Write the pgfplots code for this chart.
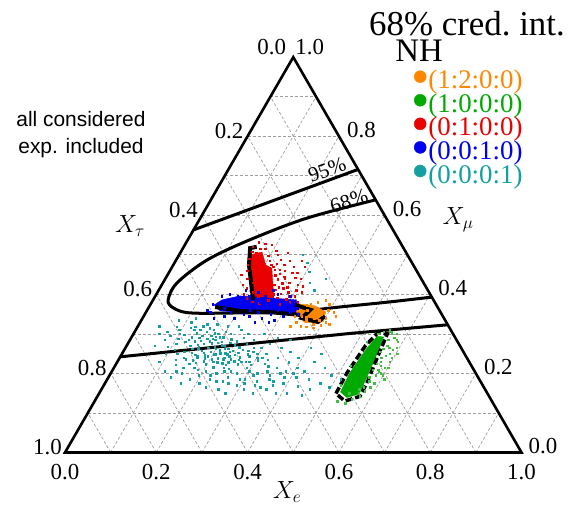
\documentclass[border=0pt]{standalone}
\usepackage{pgfplots}
\pgfplotsset{compat=1.18}
\usepackage{pgfplotstable}
\usepackage{graphicx}
\usepackage{fontspec}
\setmainfont{Liberation Serif}
\newfontfamily\sansf{Liberation Sans}

\definecolor{corange}{RGB}{255,135,0}
\definecolor{cgreen}{RGB}{0,170,0}
\definecolor{cred}{RGB}{235,0,0}
\definecolor{cblue}{RGB}{0,0,240}
\definecolor{cteal}{RGB}{20,160,160}

\pgfplotsset{table/tern/.style={x expr=\thisrow{e}+0.5*\thisrow{m}, y expr=0.866025*\thisrow{m}}}
\tikzset{gridst/.style={gray!75, line width=0.7bp, dash pattern=on 3bp off 2bp}}

% ternary values: e = X_e, m = X_mu  (X_tau = 1 - e - m)
\pgfplotstableread{
e m
0.161 0.262
0.176 0.281
0.192 0.255
0.214 0.270
0.149 0.290
0.231 0.248
0.186 0.300
0.203 0.236
0.167 0.245
0.221 0.287
0.139 0.270
0.253 0.253
0.196 0.278
0.181 0.265
0.158 0.305
0.245 0.236
0.209 0.259
0.173 0.227
0.131 0.292
0.236 0.271
0.191 0.243
0.219 0.228
0.151 0.252
0.262 0.241
0.201 0.292
0.127 0.311
0.179 0.288
0.227 0.262
0.166 0.275
0.241 0.222
0.146 0.236
0.259 0.260
0.188 0.231
0.213 0.301
0.134 0.255
0.271 0.230
0.156 0.283
0.206 0.248
0.229 0.240
0.177 0.302
0.123 0.280
0.249 0.266
0.195 0.266
0.163 0.234
0.281 0.244
0.141 0.310
0.217 0.216
0.187 0.285
0.235 0.282
0.170 0.258
0.253 0.212
0.112 0.298
0.203 0.280
0.225 0.251
0.159 0.268
0.267 0.223
0.183 0.246
0.144 0.281
0.239 0.257
0.197 0.223
0.086 0.318
0.101 0.300
0.076 0.285
0.111 0.330
0.091 0.268
0.121 0.250
0.071 0.305
0.106 0.275
0.131 0.222
0.116 0.340
0.151 0.215
0.096 0.250
0.081 0.335
0.126 0.318
0.141 0.205
0.291 0.215
0.306 0.233
0.321 0.200
0.276 0.200
0.336 0.218
0.301 0.185
0.351 0.195
0.316 0.250
0.281 0.265
0.366 0.180
0.331 0.170
0.296 0.250
0.381 0.205
0.346 0.240
0.391 0.175
0.361 0.160
0.411 0.190
0.401 0.215
0.426 0.168
0.441 0.185
0.376 0.228
0.456 0.160
0.421 0.205
0.471 0.175
0.446 0.145
0.486 0.195
0.411 0.150
0.261 0.190
0.241 0.180
0.221 0.195
0.291 0.170
0.271 0.285
0.251 0.300
0.231 0.310
0.311 0.275
0.341 0.265
0.196 0.320
0.171 0.325
0.156 0.200
0.181 0.185
0.206 0.175
0.256 0.160
0.311 0.160
0.336 0.150
0.386 0.150
0.431 0.230
0.461 0.215
0.496 0.165
0.511 0.185
0.366 0.255
0.391 0.240
0.286 0.300
0.321 0.290
0.351 0.285
0.406 0.265
0.436 0.250
0.221 0.320
0.136 0.190
0.166 0.175
0.226 0.165
0.276 0.150
0.056 0.300
0.061 0.270
0.091 0.230
0.046 0.320
0.116 0.205
0.261 0.205
0.246 0.205
0.301 0.205
0.326 0.235
0.356 0.215
0.371 0.200
0.281 0.230
0.296 0.222
0.261 0.275
0.246 0.290
0.206 0.205
0.231 0.200
0.186 0.210
0.171 0.310
0.149 0.325
0.306 0.457
0.321 0.430
0.291 0.480
0.341 0.410
0.271 0.500
0.351 0.440
0.152 0.296
0.168 0.288
0.183 0.276
0.199 0.262
0.214 0.251
0.229 0.236
0.244 0.228
0.137 0.302
0.162 0.247
0.178 0.252
0.193 0.291
0.208 0.271
0.223 0.278
0.238 0.244
0.255 0.231
0.147 0.263
0.172 0.296
0.187 0.238
0.202 0.249
0.218 0.263
0.233 0.255
0.248 0.247
0.263 0.235
0.129 0.285
0.154 0.273
0.169 0.241
0.184 0.293
0.199 0.305
0.215 0.238
0.231 0.226
0.276 0.248
0.289 0.229
0.301 0.240
0.118 0.315
0.104 0.288
0.095 0.310
0.143 0.320
0.160 0.314
0.210 0.230
0.272 0.258
0.285 0.255
0.297 0.265
0.312 0.240
0.325 0.225
0.340 0.205
0.355 0.185
0.370 0.170
0.385 0.190
0.400 0.200
0.330 0.180
0.345 0.165
0.315 0.195
0.290 0.185
0.305 0.175
0.270 0.175
0.255 0.180
0.240 0.215
0.225 0.185
0.195 0.195
0.175 0.215
0.160 0.225
0.140 0.240
0.125 0.235
0.110 0.260
0.083 0.295
}\cyanpts

\pgfplotstableread{
e m
0.151 0.520
0.166 0.505
0.181 0.515
0.196 0.498
0.159 0.490
0.173 0.480
0.189 0.470
0.206 0.485
0.221 0.470
0.169 0.460
0.186 0.452
0.201 0.445
0.219 0.455
0.236 0.448
0.251 0.460
0.179 0.440
0.196 0.430
0.213 0.420
0.231 0.432
0.246 0.425
0.261 0.440
0.276 0.430
0.191 0.415
0.209 0.405
0.226 0.395
0.241 0.410
0.256 0.400
0.271 0.415
0.286 0.405
0.203 0.390
0.219 0.382
0.236 0.378
0.253 0.385
0.269 0.392
0.291 0.388
0.306 0.395
0.181 0.500
0.163 0.475
0.229 0.488
0.243 0.475
0.266 0.470
0.281 0.455
0.296 0.440
0.311 0.420
0.177 0.425
0.191 0.400
0.156 0.508
0.216 0.500
0.239 0.462
0.259 0.418
0.301 0.410
0.283 0.375
0.249 0.395
0.233 0.415
0.223 0.440
0.206 0.462
0.191 0.485
0.176 0.465
0.161 0.450
0.276 0.485
0.158 0.532
0.175 0.528
0.165 0.495
0.185 0.488
0.200 0.470
0.214 0.475
0.228 0.462
0.244 0.452
0.258 0.445
0.270 0.455
0.283 0.442
0.297 0.425
0.214 0.438
0.228 0.425
0.247 0.438
0.262 0.428
0.278 0.418
0.293 0.395
0.240 0.398
0.256 0.412
0.272 0.402
0.197 0.455
0.170 0.515
0.190 0.525
0.208 0.510
0.225 0.478
0.302 0.380
0.316 0.405
0.320 0.380
0.235 0.505
0.250 0.485
0.290 0.470
}\redpts

\pgfplotstableread{
e m
0.155 0.500
0.178 0.507
0.203 0.474
0.220 0.466
0.265 0.386
0.226 0.381
0.190 0.436
}\redcore

\pgfplotstableread{
e m
0.151 0.380
0.166 0.365
0.141 0.355
0.181 0.395
0.196 0.370
0.176 0.345
0.211 0.385
0.226 0.360
0.201 0.340
0.241 0.395
0.256 0.372
0.231 0.345
0.271 0.385
0.286 0.360
0.261 0.340
0.301 0.375
0.316 0.355
0.291 0.335
0.161 0.400
0.191 0.410
0.221 0.405
0.251 0.410
0.136 0.375
0.156 0.340
0.186 0.355
0.216 0.350
0.246 0.355
0.276 0.350
0.306 0.345
0.171 0.385
0.206 0.395
0.236 0.380
0.266 0.400
0.296 0.395
0.146 0.395
0.131 0.360
0.281 0.330
0.251 0.330
0.326 0.365
0.336 0.350
}\bluepts

\pgfplotstableread{
e m
0.151 0.386
0.185 0.396
0.254 0.391
0.313 0.386
0.339 0.353
0.273 0.353
0.206 0.355
0.161 0.358
0.140 0.373
}\bluecore

\pgfplotstableread{
e m
0.336 0.360
0.351 0.375
0.371 0.365
0.386 0.350
0.401 0.340
0.361 0.335
0.346 0.345
0.381 0.325
0.396 0.360
0.366 0.355
0.341 0.330
0.356 0.320
0.376 0.340
0.411 0.355
0.391 0.375
0.331 0.345
0.386 0.315
0.406 0.330
0.351 0.360
0.369 0.318
0.421 0.345
0.363 0.380
0.343 0.372
0.379 0.385
0.399 0.322
0.416 0.325
0.333 0.320
0.389 0.335
0.357 0.342
0.375 0.352
}\orangepts

\pgfplotstableread{
e m
0.323 0.376
0.362 0.371
0.394 0.355
0.398 0.330
0.362 0.328
0.331 0.350
}\orangecore

\pgfplotstableread{
e m
0.576 0.180
0.581 0.220
0.586 0.250
0.571 0.270
0.591 0.200
0.566 0.300
0.596 0.240
0.579 0.155
0.561 0.135
0.586 0.165
0.601 0.215
0.576 0.290
0.589 0.280
0.569 0.210
0.556 0.310
0.546 0.305
0.521 0.280
0.516 0.220
0.519 0.170
0.531 0.130
0.551 0.125
0.583 0.195
0.573 0.240
0.594 0.265
0.564 0.160
0.577 0.300
0.607 0.185
0.563 0.255
0.547 0.150
0.536 0.300
0.571 0.190
0.576 0.230
0.578 0.265
0.584 0.285
0.568 0.150
0.574 0.142
0.590 0.175
0.596 0.230
0.581 0.210
0.588 0.260
0.565 0.285
0.562 0.305
0.598 0.195
0.603 0.250
0.572 0.165
0.580 0.245
0.585 0.205
0.593 0.215
0.570 0.225
0.566 0.262
}\greenpts

\pgfplotstableread{
e m
0.527 0.153
0.523 0.200
0.529 0.262
0.537 0.294
0.552 0.292
0.560 0.240
0.567 0.180
0.570 0.148
0.548 0.139
}\greencore

\pgfplotstableread{
e m
0.519 0.149
0.517 0.200
0.523 0.270
0.534 0.303
0.556 0.300
0.564 0.240
0.573 0.179
0.575 0.142
0.548 0.130
}\greencont

% credible-region boundaries
\pgfplotstableread{
e m
0.000 0.563
0.284 0.716
}\ninetyfiveA

\pgfplotstableread{
e m
0.000 0.242
0.473 0.301
0.677 0.323
}\ninetyfiveB

\pgfplotstableread{
e m
0.361 0.639
0.234 0.593
0.136 0.538
0.068 0.487
0.031 0.429
0.033 0.386
0.054 0.366
0.098 0.353
0.207 0.353
0.316 0.355
0.418 0.368
0.522 0.381
0.607 0.393
}\sixtyeight

% black contours of the dense cores
\pgfplotstableread{
e m
0.160 0.520
0.147 0.517
0.166 0.474
0.219 0.386
}\redcont
\pgfplotstableread{
e m
0.145 0.368
0.204 0.358
0.272 0.355
0.341 0.348
}\bluecont
\pgfplotstableread{
e m
0.318 0.373
0.357 0.361
0.349 0.340
0.389 0.330
0.397 0.345
}\orangecont

\newcommand\tk{\fontsize{23}{23}\selectfont}

\begin{document}
\begin{tikzpicture}
\begin{axis}[
  x=456.5bp, y=456.5bp,
  xmin=-0.1424, xmax=1.1150, ymin=-0.1303, ymax=0.9912,
  enlargelimits=false, hide axis, clip=false,
  legend style={at={(axis cs:0.7645,0.8368)}, anchor=north west, draw=none, fill=none,
    inner sep=0pt, outer sep=0pt, row sep=0bp, column sep=2bp,
    font=\fontsize{27}{27}\selectfont,
    nodes={inner sep=0pt, text height=17.5bp, text depth=5.25bp}},
  legend cell align=left,
  legend image code/.code={\fill[#1] (6bp,6bp) circle (6bp);},
]
% grid
\pgfplotsinvokeforeach{1,...,9}{
  \draw[gridst] (axis cs:{0.05*#1},{0.0866025*#1}) -- (axis cs:{1-0.05*#1},{0.0866025*#1});
  \draw[gridst] (axis cs:{0.1*#1},0) -- (axis cs:{0.5+0.05*#1},{0.866025-0.0866025*#1});
  \draw[gridst] (axis cs:{1-0.1*#1},0) -- (axis cs:{0.5-0.05*#1},{0.866025-0.0866025*#1});
}
\draw[black, line width=2.6bp, line join=miter] (axis cs:0,0) -- (axis cs:1,0) -- (axis cs:0.5,0.866025) -- cycle;

% NH 0:0:0:1 cloud
\addplot[only marks, mark=square*, mark size=0.75bp, cteal, forget plot] table[tern] {\cyanpts};

% credible regions
\addplot[black, line width=3bp, forget plot] table[tern] {\ninetyfiveA};
\addplot[black, line width=3bp, forget plot] table[tern] {\ninetyfiveB};
\addplot[black, line width=3bp, smooth, tension=0.55, forget plot] table[tern] {\sixtyeight};

% clouds
\addplot[fill=cred, draw=cred, forget plot] table[tern] {\redcore} -- cycle;
\addplot[only marks, mark=square*, mark size=0.75bp, cred, forget plot] table[tern] {\redpts};
\addplot[fill=cblue, draw=cblue, forget plot] table[tern] {\bluecore} -- cycle;
\addplot[only marks, mark=square*, mark size=0.75bp, cblue, forget plot] table[tern] {\bluepts};
\addplot[fill=corange, draw=corange, forget plot] table[tern] {\orangecore} -- cycle;
\addplot[only marks, mark=square*, mark size=0.75bp, corange, forget plot] table[tern] {\orangepts};
\addplot[fill=cgreen, draw=cgreen, forget plot] table[tern] {\greencore} -- cycle;
\addplot[only marks, mark=square*, mark size=0.75bp, cgreen!75!white, forget plot] table[tern] {\greenpts};

% black contours
\addplot[black, line width=4bp, forget plot] table[tern] {\redcont};
\addplot[black, line width=4bp, forget plot] table[tern] {\bluecont};
\addplot[black, line width=4bp, forget plot] table[tern] {\orangecont};
\addplot[black, line width=3.5bp, dash pattern=on 7bp off 3bp, forget plot] table[tern] {\greencont} -- cycle;

% legend
\addlegendimage{corange}\addlegendentry{\textcolor{corange}{(1:2:0:0)}}
\addlegendimage{cgreen}\addlegendentry{\textcolor{cgreen}{(1:0:0:0)}}
\addlegendimage{cred}\addlegendentry{\textcolor{cred}{(0:1:0:0)}}
\addlegendimage{cblue}\addlegendentry{\textcolor{cblue}{(0:0:1:0)}}
\addlegendimage{cteal}\addlegendentry{\textcolor{cteal}{(0:0:0:1)}}

% tick labels: X_e (bottom)
\node[font=\tk] at (axis cs:0,-0.042) {0.0};
\node[font=\tk] at (axis cs:0.2,-0.042) {0.2};
\node[font=\tk] at (axis cs:0.4,-0.042) {0.4};
\node[font=\tk] at (axis cs:0.6,-0.042) {0.6};
\node[font=\tk] at (axis cs:0.8,-0.042) {0.8};
\node[font=\tk] at (axis cs:1,-0.042) {1.0};
% X_tau (left)
\node[font=\tk, anchor=east, xshift=-7bp, yshift=10bp, inner sep=0pt] at (axis cs:0.5,0.866025) {0.0};
\node[font=\tk, anchor=east, xshift=-4bp, yshift=5bp, inner sep=0pt] at (axis cs:0.4,0.69282) {0.2};
\node[font=\tk, anchor=east, xshift=-4bp, yshift=5bp, inner sep=0pt] at (axis cs:0.3,0.519615) {0.4};
\node[font=\tk, anchor=east, xshift=-4bp, yshift=5bp, inner sep=0pt] at (axis cs:0.2,0.34641) {0.6};
\node[font=\tk, anchor=east, xshift=-4bp, yshift=5bp, inner sep=0pt] at (axis cs:0.1,0.173205) {0.8};
\node[font=\tk, anchor=east, xshift=-3bp, yshift=5bp, inner sep=0pt] at (axis cs:0,0) {1.0};
% X_mu (right)
\node[font=\tk, anchor=west, xshift=2bp, yshift=10bp, inner sep=0pt] at (axis cs:0.5,0.866025) {1.0};
\node[font=\tk, anchor=west, xshift=8bp, yshift=6bp, inner sep=0pt] at (axis cs:0.6,0.69282) {0.8};
\node[font=\tk, anchor=west, xshift=8bp, yshift=6bp, inner sep=0pt] at (axis cs:0.7,0.519615) {0.6};
\node[font=\tk, anchor=west, xshift=8bp, yshift=6bp, inner sep=0pt] at (axis cs:0.8,0.34641) {0.4};
\node[font=\tk, anchor=west, xshift=8bp, yshift=6bp, inner sep=0pt] at (axis cs:0.9,0.173205) {0.2};
\node[font=\tk, anchor=west, xshift=7bp, yshift=6bp, inner sep=0pt] at (axis cs:1,0) {0.0};

% axis titles
\node[font=\fontsize{25}{25}\selectfont] at (axis cs:0.1424,0.4962) {$X_\tau$};
\node[font=\fontsize{25}{25}\selectfont] at (axis cs:0.8609,0.5093) {$X_\mu$};
\node[font=\fontsize{25}{25}\selectfont] at (axis cs:0.4863,-0.0865) {$X_e$};

% contour labels
\node[font=\fontsize{21}{21}\selectfont, rotate=20, inner sep=0pt] at (axis cs:0.5740,0.6190) {95\%};
\node[font=\fontsize{21}{21}\selectfont, rotate=17, inner sep=0pt] at (axis cs:0.6220,0.5510) {68\%};

% annotations
\node[font=\sansf\fontsize{21}{27}\selectfont, align=center] at (axis cs:0.035,0.6955) {all considered\\exp. included};
\node[font=\fontsize{35}{35}\selectfont] at (axis cs:0.8806,0.9386) {68\% cred.\ int.};
\node[font=\fontsize{33}{33}\selectfont] at (axis cs:0.7755,0.8795) {NH};
\end{axis}
\pgfresetboundingbox
\useasboundingbox (current axis.south west) rectangle (current axis.north east);
\end{tikzpicture}
\end{document}
